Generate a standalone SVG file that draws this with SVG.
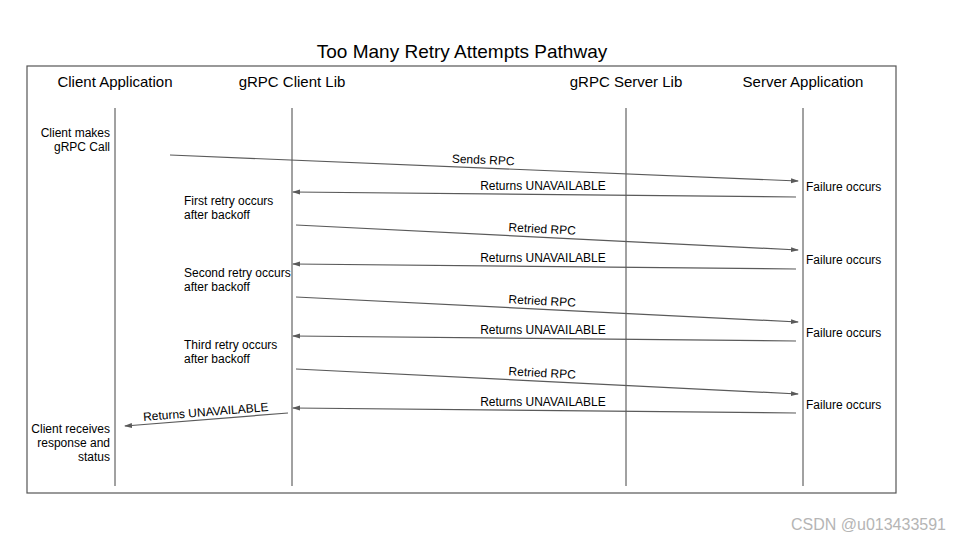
<svg xmlns="http://www.w3.org/2000/svg" width="960" height="540" viewBox="0 0 960 540">
<style>
text{font-family:"Liberation Sans",Arial,sans-serif;fill:#000}
.t{font-size:19px}
.h{font-size:15px}
.s{font-size:12px}
.ll{stroke:#444;stroke-width:1;fill:none}
.c{stroke:#5a5a5a;stroke-width:1.2;fill:none;marker-end:url(#a)}
.wm{font-size:16px;fill:#b5b5b5}
</style>
<defs>
<marker id="a" markerWidth="8" markerHeight="6" refX="7" refY="3" orient="auto" markerUnits="userSpaceOnUse">
<path d="M0,0.5 L8,3 L0,5.5 Z" fill="#5a5a5a"/>
</marker>
</defs>
<rect width="960" height="540" fill="#fff"/>
<text class="t" x="462" y="58" text-anchor="middle">Too Many Retry Attempts Pathway</text>
<rect x="27" y="66" width="869" height="427" fill="none" stroke="#555" stroke-width="1.2"/>
<g id="client-app">
<text class="h" x="115" y="87" text-anchor="middle">Client Application</text>
<line class="ll" x1="115" y1="108" x2="115" y2="486"/>
</g>
<g id="grpc-client-lib">
<text class="h" x="292" y="87" text-anchor="middle">gRPC Client Lib</text>
<line class="ll" x1="292" y1="108" x2="292" y2="486"/>
</g>
<g id="grpc-server-lib">
<text class="h" x="626" y="87" text-anchor="middle">gRPC Server Lib</text>
<line class="ll" x1="626" y1="108" x2="626" y2="486"/>
</g>
<g id="server-app">
<text class="h" x="803" y="87" text-anchor="middle">Server Application</text>
<line class="ll" x1="803" y1="108" x2="803" y2="486"/>
</g>
<g id="notes">
<text class="s" text-anchor="end"><tspan x="110" y="137">Client makes</tspan><tspan x="110" y="151">gRPC Call</tspan></text>
<text class="s"><tspan x="184" y="205">First retry occurs</tspan><tspan x="184" y="219">after backoff</tspan></text>
<text class="s"><tspan x="184" y="277">Second retry occurs</tspan><tspan x="184" y="291">after backoff</tspan></text>
<text class="s"><tspan x="184" y="349">Third retry occurs</tspan><tspan x="184" y="363">after backoff</tspan></text>
<text class="s" text-anchor="end"><tspan x="110" y="433">Client receives</tspan><tspan x="110" y="447">response and</tspan><tspan x="110" y="461">status</tspan></text>
<text class="s" x="806" y="191">Failure occurs</text>
<text class="s" x="806" y="264">Failure occurs</text>
<text class="s" x="806" y="337">Failure occurs</text>
<text class="s" x="806" y="409">Failure occurs</text>
</g>
<g id="connectors">
<line class="c" x1="170" y1="155" x2="798" y2="181"/>
<line class="c" x1="796" y1="197" x2="293" y2="192"/>
<line class="c" x1="296" y1="225" x2="798" y2="250"/>
<line class="c" x1="796" y1="269" x2="293" y2="264"/>
<line class="c" x1="296" y1="297" x2="798" y2="322"/>
<line class="c" x1="796" y1="341" x2="293" y2="336"/>
<line class="c" x1="296" y1="369" x2="798" y2="394"/>
<line class="c" x1="796" y1="413" x2="293" y2="408"/>
<line class="c" x1="288" y1="413" x2="125" y2="426"/>
<text class="s" text-anchor="middle" transform="translate(483,164) rotate(2.4)">Sends RPC</text>
<text class="s" text-anchor="middle" x="543" y="190">Returns UNAVAILABLE</text>
<text class="s" text-anchor="middle" transform="translate(542,233) rotate(2.9)">Retried RPC</text>
<text class="s" text-anchor="middle" x="543" y="262">Returns UNAVAILABLE</text>
<text class="s" text-anchor="middle" transform="translate(542,305) rotate(2.9)">Retried RPC</text>
<text class="s" text-anchor="middle" x="543" y="334">Returns UNAVAILABLE</text>
<text class="s" text-anchor="middle" transform="translate(542,377) rotate(2.9)">Retried RPC</text>
<text class="s" text-anchor="middle" x="543" y="406">Returns UNAVAILABLE</text>
<text class="s" text-anchor="middle" transform="translate(206,416) rotate(-4.6)">Returns UNAVAILABLE</text>
</g>
<text class="wm" x="946" y="530" text-anchor="end">CSDN @u013433591</text>
</svg>
